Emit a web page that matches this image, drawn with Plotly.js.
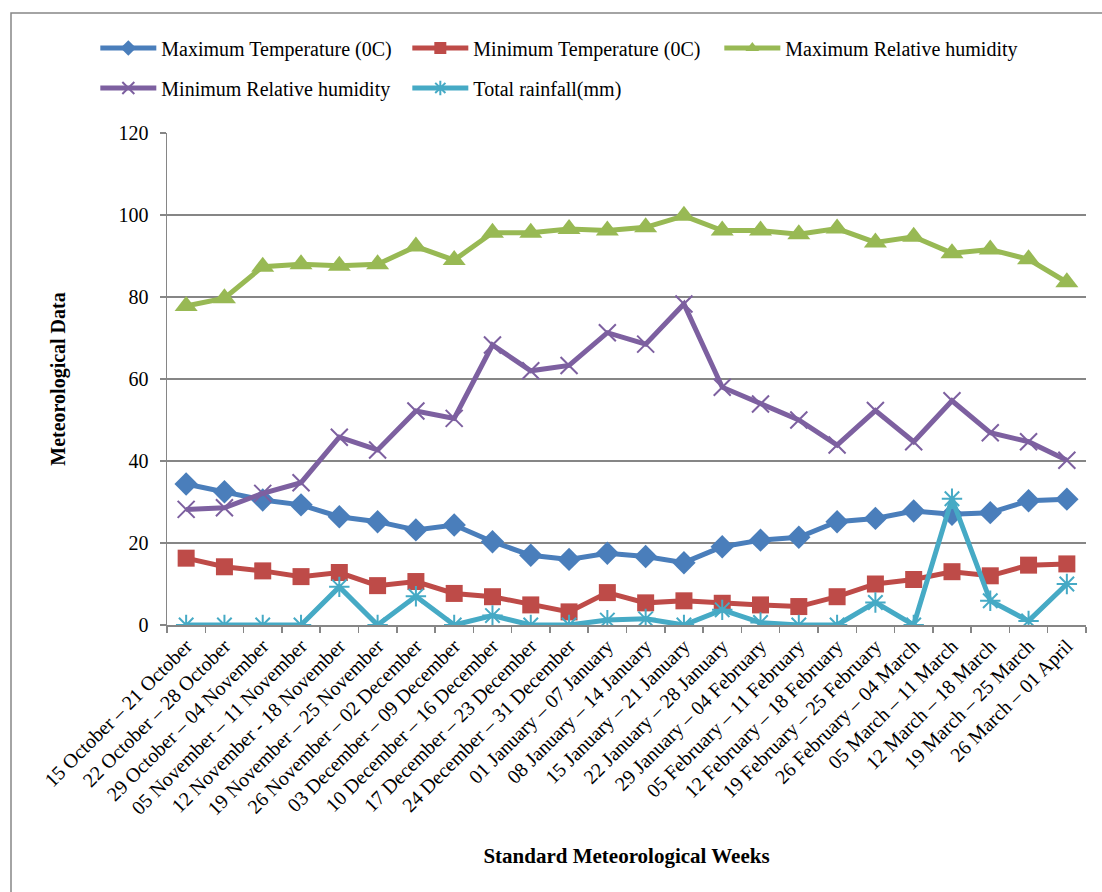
<!DOCTYPE html>
<html>
<head>
<meta charset="utf-8">
<script src="https://cdn.plot.ly/plotly-3.0.1.min.js"></script>
<style>html,body{margin:0;padding:0;background:#fff;}#chart{width:1102px;height:892px;}</style>
</head>
<body>
<div id="chart"></div>
<script>
const weeks = [
  "15 October – 21 October", "22 October – 28 October", "29 October – 04 November",
  "05 November – 11 November", "12 November - 18 November", "19 November – 25 November",
  "26 November – 02 December", "03 December – 09 December", "10 December – 16 December",
  "17 December – 23 December", "24 December – 31 December", "01 January – 07 January",
  "08 January – 14 January", "15 January – 21 January", "22 January – 28 January",
  "29 January – 04 February", "05 February – 11 February", "12 February – 18 February",
  "19 February – 25 February", "26 February – 04 March", "05 March – 11 March",
  "12 March – 18 March", "19 March – 25 March", "26 March – 01 April"
];
const maxTemp = [34.4, 32.5, 30.5, 29.3, 26.4, 25.2, 23.2, 24.4, 20.3, 17.0, 16.0, 17.5,
                 16.7, 15.2, 19.1, 20.7, 21.4, 25.2, 26.0, 27.8, 27.0, 27.4, 30.3, 30.7];
const minTemp = [16.3, 14.2, 13.2, 11.8, 12.8, 9.6, 10.6, 7.7, 6.9, 4.9, 3.2, 7.9,
                 5.4, 5.9, 5.3, 4.9, 4.5, 6.9, 10.0, 11.1, 13.0, 12.0, 14.6, 14.9];
const maxRH = [77.8, 79.7, 87.4, 88.0, 87.6, 88.0, 92.3, 89.0, 95.7, 95.7, 96.6, 96.2,
               97.0, 99.8, 96.2, 96.2, 95.3, 96.7, 93.3, 94.7, 90.7, 91.6, 89.2, 83.6];
const minRH = [28.2, 28.6, 32.1, 34.7, 45.8, 42.7, 52.2, 50.4, 68.3, 62.0, 63.3, 71.3,
               68.5, 78.3, 58.0, 53.9, 50.0, 43.9, 52.3, 44.7, 54.7, 46.9, 44.7, 40.2];
const rainfall = [0, 0, 0, 0, 9.3, 0, 7.0, 0, 2.3, 0, 0, 1.2,
                  1.5, 0, 3.7, 0.6, 0, 0, 5.5, 0, 30.8, 5.9, 1.0, 10.0];
const seriesNames = ["Maximum Temperature (0C)", "Minimum Temperature (0C)",
                     "Maximum Relative humidity", "Minimum Relative humidity", "Total rainfall(mm)"];

const FONT = "Liberation Serif, Times New Roman, serif";
const grid = "#868686";

function tr(y, name, color, symbol, size, legend, open) {
  const m = {symbol: symbol, size: size, color: color};
  if (open) m.line = {color: color, width: 2};
  return {x: weeks, y: y, name: name, type: "scatter", mode: "lines+markers",
          line: {color: color, width: 5}, marker: m, legend: legend};
}

const data = [
  tr(maxTemp, seriesNames[0], "#4A7EBB", "diamond", 18, "legend", false),
  tr(minTemp, seriesNames[1], "#BE4B48", "square", 17, "legend", false),
  tr(maxRH, seriesNames[2], "#98B954", "triangle-up", 20, "legend", false),
  tr(minRH, seriesNames[3], "#7D60A0", "x-thin-open", 17, "legend2", true),
  tr(rainfall, seriesNames[4], "#46AAC5", "asterisk-open", 17, "legend2", true)
];

const legendCommon = {
  orientation: "h", font: {family: FONT, size: 20, color: "#000"},
  bgcolor: "rgba(0,0,0,0)", itemwidth: 56, entrywidth: 241, itemsizing: "constant",
  xanchor: "left", yanchor: "middle", itemclick: false
};

const layout = {
  width: 1102, height: 892,
  margin: {l: 167, r: 16, t: 133, b: 267},
  paper_bgcolor: "#fff", plot_bgcolor: "#fff",
  font: {family: FONT, size: 20, color: "#000"},
  showlegend: true,
  legend: Object.assign({}, legendCommon, {x: -0.078, y: 1.1728}),
  legend2: Object.assign({}, legendCommon, {x: -0.078, y: 1.0915}),
  xaxis: {
    type: "category", range: [-0.5, 23.5], tickangle: -45,
    showgrid: false, showline: true, linecolor: grid, linewidth: 1.5,
    ticks: "outside", tickson: "boundaries", ticklen: 6, tickcolor: grid, tickwidth: 1.5,
    tickfont: {family: FONT, size: 20, color: "#000"},
    title: {text: "<b>Standard Meteorological Weeks</b>", font: {family: FONT, size: 21, color: "#000"}, standoff: 30},
    zeroline: false, fixedrange: true
  },
  yaxis: {
    range: [0, 120], dtick: 20, tick0: 0,
    showgrid: true, gridcolor: grid, gridwidth: 1.5,
    showline: true, linecolor: grid, linewidth: 1.5,
    ticks: "outside", ticklen: 6, tickcolor: grid, tickwidth: 1.5, ticklabelstandoff: 7,
    tickfont: {family: FONT, size: 20, color: "#000"},
    title: {text: "<b>Meteorological Data</b>", font: {family: FONT, size: 20, color: "#000"}, standoff: 47},
    zeroline: false, fixedrange: true
  },
  shapes: [{type: "rect", xref: "paper", yref: "paper",
            x0: (11 - 167) / 919, x1: (1110 - 167) / 919,
            y0: (625 - 900) / 492, y1: (625 - 13) / 492,
            line: {color: "#868686", width: 1.5}, fillcolor: "rgba(0,0,0,0)", layer: "below"}]
};

Plotly.newPlot("chart", data, layout, {staticPlot: true, displayModeBar: false});
</script>
</body>
</html>
